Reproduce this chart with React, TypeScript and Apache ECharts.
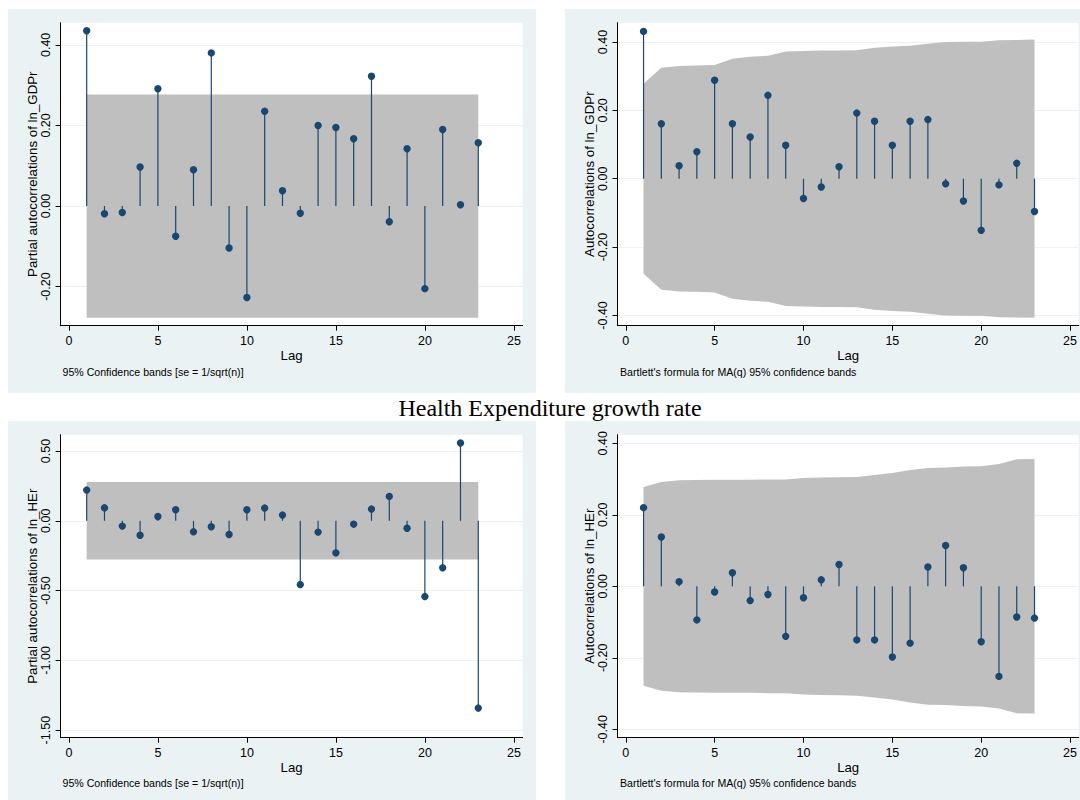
import React, { useEffect, useRef } from "react";
import * as echarts from "echarts";

// ---------- data ----------
const lags = [1, 2, 3, 4, 5, 6, 7, 8, 9, 10, 11, 12, 13, 14, 15, 16, 17, 18, 19, 20, 21, 22, 23];

// Partial autocorrelations of ln_GDPr
const pacfGdp = [0.435, -0.019, -0.016, 0.097, 0.291, -0.075, 0.09, 0.38, -0.104, -0.227, 0.235, 0.038, -0.018, 0.2, 0.195, 0.167, 0.322, -0.039, 0.142, -0.205, 0.19, 0.003, 0.157];
const pacfGdpBand = 0.277;

// Autocorrelations of ln_GDPr
const acfGdp = [0.431, 0.161, 0.038, 0.079, 0.288, 0.161, 0.122, 0.244, 0.098, -0.058, -0.024, 0.035, 0.192, 0.168, 0.098, 0.168, 0.173, -0.015, -0.065, -0.151, -0.018, 0.045, -0.096];
const acfGdpBand = [0.278, 0.325, 0.33, 0.331, 0.333, 0.351, 0.357, 0.36, 0.372, 0.374, 0.375, 0.375, 0.376, 0.383, 0.387, 0.389, 0.395, 0.4, 0.401, 0.401, 0.405, 0.406, 0.407];

// Partial autocorrelations of ln_HEr
const pacfHe = [0.22, 0.093, -0.038, -0.103, 0.031, 0.079, -0.079, -0.043, -0.098, 0.079, 0.091, 0.041, -0.457, -0.081, -0.23, -0.024, 0.084, 0.175, -0.053, -0.543, -0.337, 0.557, -1.342];
const pacfHeBand = 0.2775;

// Autocorrelations of ln_HEr
const acfHe = [0.22, 0.138, 0.013, -0.094, -0.016, 0.038, -0.04, -0.023, -0.14, -0.032, 0.018, 0.061, -0.15, -0.15, -0.198, -0.159, 0.054, 0.114, 0.052, -0.155, -0.252, -0.086, -0.089];
const acfHeBand = [0.278, 0.292, 0.2965, 0.297, 0.298, 0.298, 0.298, 0.299, 0.299, 0.303, 0.304, 0.305, 0.306, 0.311, 0.317, 0.325, 0.331, 0.332, 0.335, 0.336, 0.342, 0.355, 0.356];

const xTicks = [0, 5, 10, 15, 20, 25];
const yTicksTL = [-0.2, 0, 0.2, 0.4];
const yTicksTR = [-0.4, -0.2, 0, 0.2, 0.4];
const yTicksBL = [-1.5, -1, -0.5, 0, 0.5];
const yTicksBR = [-0.4, -0.2, 0, 0.2, 0.4];

const titleText = "Health Expenditure growth rate";
const notePacf = "95% Confidence bands [se = 1/sqrt(n)]";
const noteAcf = "Bartlett's formula for MA(q) 95% confidence bands";

// ---------- style ----------
const SANS = "'Liberation Sans', Arial, sans-serif";
const NAVY = "#1a476f";
const BAND = "#bfbfbf";
const BG = "#eaf2f3";

type Panel = {
  grid: { left: number; top: number; width: number; height: number };
  bg: [number, number, number, number];
  yMin: number;
  yMax: number;
  yTicks: number[];
  yName: string;
  values: number[];
  upper: number[];
  lower: number[];
  note: string;
  noteX: number;
  noteY: number;
};

const panels: Panel[] = [
  {
    grid: { left: 60.6, top: 22.7, width: 462, height: 303 },
    bg: [8, 9, 528, 384],
    yMin: -0.297,
    yMax: 0.455,
    yTicks: yTicksTL,
    yName: "Partial autocorrelations of ln_GDPr",
    values: pacfGdp,
    upper: lags.map(() => pacfGdpBand),
    lower: lags.map(() => -pacfGdpBand),
    note: notePacf,
    noteX: 62.5,
    noteY: 371.7,
  },
  {
    grid: { left: 617.5, top: 22.7, width: 462, height: 303 },
    bg: [565, 9, 520, 384],
    yMin: -0.43,
    yMax: 0.4565,
    yTicks: yTicksTR,
    yName: "Autocorrelations of ln_GDPr",
    values: acfGdp,
    upper: acfGdpBand,
    lower: acfGdpBand.map((v) => -v),
    note: noteAcf,
    noteX: 620,
    noteY: 371.7,
  },
  {
    grid: { left: 60.6, top: 434.7, width: 462, height: 303 },
    bg: [8, 421, 528, 384],
    yMin: -1.554,
    yMax: 0.617,
    yTicks: yTicksBL,
    yName: "Partial autocorrelations of ln_HEr",
    values: pacfHe,
    upper: lags.map(() => pacfHeBand),
    lower: lags.map(() => -pacfHeBand),
    note: notePacf,
    noteX: 62.5,
    noteY: 783.3,
  },
  {
    grid: { left: 617.5, top: 434.7, width: 462, height: 303 },
    bg: [565, 421, 520, 384],
    yMin: -0.4235,
    yMax: 0.424,
    yTicks: yTicksBR,
    yName: "Autocorrelations of ln_HEr",
    values: acfHe,
    upper: acfHeBand,
    lower: acfHeBand.map((v) => -v),
    note: noteAcf,
    noteX: 620,
    noteY: 783.3,
  },
];

function buildOption(): any {
  const grid: any[] = [];
  const xAxis: any[] = [];
  const yAxis: any[] = [];
  const series: any[] = [];
  const graphic: any[] = [];

  panels.forEach((p, i) => {
    graphic.push({
      type: "rect",
      z: -10,
      shape: { x: p.bg[0], y: p.bg[1], width: p.bg[2], height: p.bg[3] },
      style: { fill: BG },
      silent: true,
    });
    graphic.push({
      type: "text",
      z: 10,
      x: p.noteX,
      y: p.noteY,
      style: {
        text: p.note,
        fontSize: 10.6,
        fontFamily: SANS,
        fill: "#000",
        textAlign: "left",
        textVerticalAlign: "middle",
      },
    });

    grid.push({
      left: p.grid.left,
      top: p.grid.top,
      width: p.grid.width,
      height: p.grid.height,
      show: true,
      backgroundColor: "#ffffff",
      borderWidth: 0,
      containLabel: false,
    });

    xAxis.push({
      gridIndex: i,
      type: "value",
      min: -0.466,
      max: 25.49,
      axisLine: { show: true, onZero: false, lineStyle: { color: "#000", width: 1 } },
      axisTick: { show: true, length: 5, customValues: xTicks, lineStyle: { color: "#000", width: 1 } },
      axisLabel: { customValues: xTicks, margin: 9, color: "#000", fontSize: 12.5, fontFamily: SANS },
      splitLine: { show: false },
      name: "Lag",
      nameLocation: "middle",
      nameGap: 22,
      nameTextStyle: { fontSize: 13.2, color: "#000", fontFamily: SANS },
    });

    yAxis.push({
      gridIndex: i,
      type: "value",
      min: p.yMin,
      max: p.yMax,
      axisLine: { show: true, onZero: false, lineStyle: { color: "#000", width: 1 } },
      axisTick: { show: true, length: 5, customValues: p.yTicks, lineStyle: { color: "#000", width: 1 } },
      axisLabel: {
        customValues: p.yTicks,
        rotate: 90,
        margin: 8,
        color: "#000",
        fontSize: 12.5,
        fontFamily: SANS,
        formatter: (v: number) => (Math.abs(v) < 1e-9 ? 0 : v).toFixed(2),
      },
      splitLine: { show: true, lineStyle: { color: BG, width: 1 } },
      name: p.yName,
      nameLocation: "middle",
      nameGap: 22,
      nameTextStyle: { fontSize: 13.3, color: "#000", fontFamily: SANS },
    });

    // confidence band
    const upper = p.upper;
    const lower = p.lower;
    series.push({
      type: "custom",
      coordinateSystem: "cartesian2d",
      xAxisIndex: i,
      yAxisIndex: i,
      z: 1,
      silent: true,
      clip: false,
      data: lags.map((l, k) => [l, lower[k], upper[k]]),
      encode: { x: 0, y: [1, 2] },
      renderItem: (params: any, api: any) => {
        if (params.dataIndex !== 0) return { type: "group", children: [] };
        const pts: number[][] = [];
        lags.forEach((l, k) => pts.push(api.coord([l, upper[k]])));
        for (let k = lags.length - 1; k >= 0; k--) pts.push(api.coord([lags[k], lower[k]]));
        return {
          type: "polygon",
          shape: { points: pts },
          style: { fill: BAND, stroke: null, lineWidth: 0 },
        };
      },
    });

    // stems + markers
    series.push({
      type: "custom",
      coordinateSystem: "cartesian2d",
      xAxisIndex: i,
      yAxisIndex: i,
      z: 2,
      silent: true,
      clip: false,
      data: lags.map((l, k) => [l, p.values[k]]),
      encode: { x: 0, y: 1 },
      renderItem: (params: any, api: any) => {
        const lag = api.value(0);
        const v = api.value(1);
        const p0 = api.coord([lag, 0]);
        const p1 = api.coord([lag, v]);
        return {
          type: "group",
          children: [
            {
              type: "line",
              shape: { x1: p0[0], y1: p0[1], x2: p1[0], y2: p1[1] },
              style: { stroke: NAVY, lineWidth: 1.2 },
            },
            {
              type: "circle",
              shape: { cx: p1[0], cy: p1[1], r: 3.7 },
              style: { fill: NAVY, stroke: null },
            },
          ],
        };
      },
    });
  });

  graphic.push({
    type: "text",
    z: 10,
    x: 550,
    y: 408,
    style: {
      text: titleText,
      fontSize: 24,
      fontFamily: "'Liberation Serif', 'Times New Roman', serif",
      fill: "#000",
      textAlign: "center",
      textVerticalAlign: "middle",
    },
  });

  return {
    animation: false,
    backgroundColor: "#ffffff",
    grid,
    xAxis,
    yAxis,
    series,
    graphic,
  };
}

export default function App() {
  const ref = useRef<HTMLDivElement>(null);
  useEffect(() => {
    if (!ref.current) return;
    const chart = echarts.init(ref.current, undefined, { renderer: "svg" });
    chart.setOption(buildOption());
    return () => chart.dispose();
  }, []);
  return (
    <div
      ref={ref}
      style={{ position: "absolute", left: 0, top: 0, width: 1080, height: 800 }}
    />
  );
}
